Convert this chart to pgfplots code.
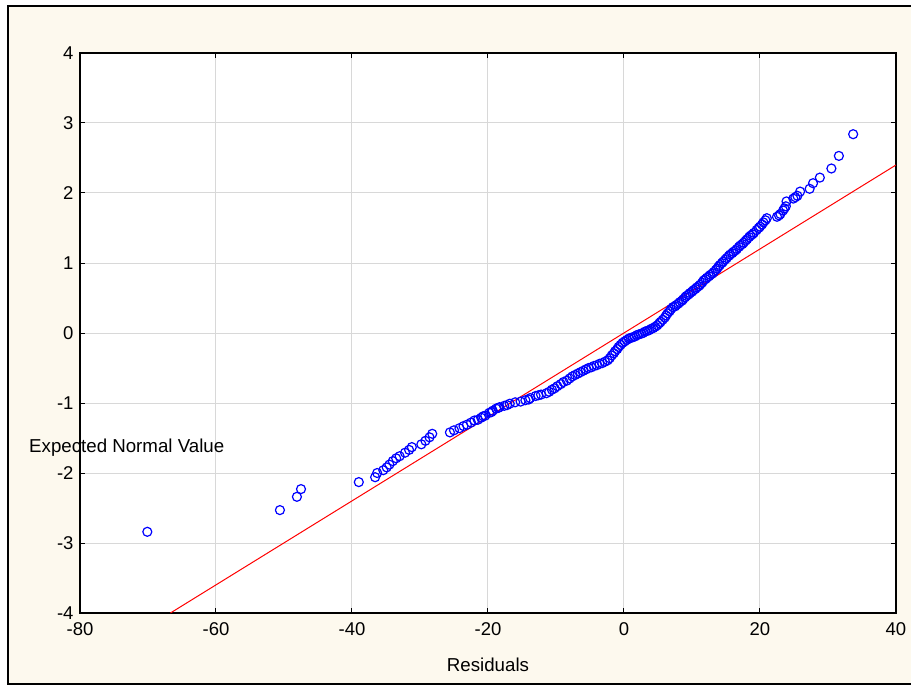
\documentclass[border=0pt]{standalone}
\usepackage{fontspec}
\setmainfont{Liberation Sans}
\usepackage{pgfplots}
\pgfplotsset{compat=1.18}
\definecolor{cream}{RGB}{253,249,238}
\definecolor{gridgray}{RGB}{216,216,216}
\begin{document}
\begin{tikzpicture}
% page background and outer frame (origin = axis lower-left corner)
\fill[white] (-80pt,-73pt) rectangle (831pt,613pt);
\filldraw[fill=cream, draw=black, line width=2pt] (-72pt,-71pt) rectangle (840pt,607pt);
\begin{axis}[
  at={(0pt,0pt)}, anchor=south west,
  width=816pt, height=560pt, scale only axis,
  xmin=-80, xmax=40, ymin=-4, ymax=4,
  xtick={-80,-60,...,40}, ytick={-4,-3,...,4},
  /pgf/number format/assume math mode=true,
  tick label style={font=\fontsize{18.5}{20}\selectfont},
  xticklabel style={yshift=-6pt},
  yticklabel style={xshift=-3pt},
  axis background/.style={fill=white},
  grid=major,
  major grid style={draw=gridgray, line width=1pt},
  axis line style={black, line width=1.5pt},
  tick style={black, line width=1pt},
  major tick length=5pt, tick align=inside,
  xlabel={Residuals},
  xlabel style={font=\fontsize{18.7}{20}\selectfont, at={(axis description cs:0.5,0)}, anchor=center, yshift=-52pt},
  ylabel={Expected Normal Value},
  ylabel style={font=\fontsize{18.7}{20}\selectfont, rotate=-90, anchor=west, inner sep=0pt, at={(axis description cs:-0.0625,0.296)}},
]
\addplot[only marks, mark=o, mark size=4.5pt, color=blue, mark options={line width=1.2pt}] coordinates {
(-70.1,-2.84) (-50.6,-2.53) (-48.1,-2.34) (-47.5,-2.23) (-39.0,-2.13)
(-36.6,-2.06) (-36.3,-2.00) (-35.4,-1.96) (-34.9,-1.92) (-34.5,-1.88)
(-34.0,-1.83) (-33.5,-1.79) (-33.0,-1.76) (-32.2,-1.71) (-31.6,-1.67)
(-31.2,-1.63) (-29.8,-1.59) (-29.2,-1.54) (-28.6,-1.49) (-28.2,-1.44)
(-25.6,-1.42) (-25.0,-1.39) (-24.2,-1.36) (-23.6,-1.33) (-23.1,-1.31)
(-22.5,-1.28) (-22.0,-1.25) (-21.0,-1.21) (-20.4,-1.18) (-19.8,-1.14)
(-19.3,-1.11) (-18.8,-1.08) (-18.3,-1.06) (-17.6,-1.04) (-16.8,-1.01)
(-16.0,-0.99) (-15.2,-0.98) (-14.5,-0.96) (-13.8,-0.93) (-13.0,-0.90)
(-12.2,-0.88) (-11.4,-0.86) (-10.6,-0.81) (-9.8,-0.76) (-8.9,-0.70)
(-8.0,-0.65) (-7.2,-0.60) (-6.4,-0.56) (-5.6,-0.52) (-4.8,-0.49)
(-4.0,-0.46) (-3.2,-0.43) (-2.4,-0.39) (-1.8,-0.32) (-1.3,-0.26)
(-0.8,-0.20) (-0.2,-0.14) (0.4,-0.10) (1.0,-0.07) (1.6,-0.05)
(2.2,-0.02) (2.8,0.00) (3.4,0.03) (4.0,0.06) (4.6,0.09)
(5.2,0.14) (5.7,0.19) (6.2,0.25) (6.7,0.31) (7.2,0.37)
(7.7,0.40) (8.2,0.44) (8.7,0.48) (9.2,0.53) (9.7,0.57)
(10.2,0.61) (10.7,0.65) (11.2,0.69) (11.7,0.75) (12.2,0.79)
(12.7,0.83) (13.2,0.87) (13.7,0.92) (14.1,0.97) (14.6,1.02)
(15.1,1.07) (15.6,1.12) (16.1,1.16) (16.6,1.20) (17.1,1.25)
(17.6,1.29) (18.1,1.34) (18.6,1.39) (19.1,1.43) (19.5,1.47)
(20.0,1.52) (20.5,1.58) (21.0,1.64) (22.5,1.66) (23.0,1.70)
(23.4,1.75) (23.8,1.81) (23.9,1.88) (24.9,1.92) (25.5,1.96)
(25.9,2.02) (27.3,2.06) (27.8,2.14) (28.8,2.22) (30.5,2.35)
(31.6,2.53) (33.7,2.84)
(-21.5,-1.24) (-20.7,-1.19) (-19.5,-1.13) (-18.5,-1.07) (-17.2,-1.03)
(-14.0,-0.95) (-12.6,-0.89) (-11.0,-0.84) (-10.2,-0.79) (-9.3,-0.73)
(-8.4,-0.68) (-7.6,-0.62) (-6.8,-0.58) (-6.0,-0.54) (-5.2,-0.50)
(-4.4,-0.47) (-3.6,-0.44) (-2.8,-0.41) (-2.1,-0.36) (-1.5,-0.29)
(-1.0,-0.23) (-0.5,-0.17) (0.1,-0.12) (0.7,-0.08) (1.3,-0.06)
(1.9,-0.03) (2.5,-0.01) (3.1,0.02) (3.7,0.04) (4.3,0.07)
(4.9,0.11) (5.4,0.16) (6.0,0.22) (6.4,0.28) (6.9,0.34)
(7.5,0.38) (8.0,0.42) (8.5,0.46) (9.0,0.51) (9.5,0.55)
(10.0,0.59) (10.5,0.63) (11.0,0.67) (11.5,0.72) (12.0,0.77)
(12.5,0.81) (13.0,0.85) (13.5,0.90) (13.9,0.95) (14.4,1.00)
(14.9,1.05) (15.4,1.10) (15.9,1.14) (16.4,1.18) (16.9,1.23)
(17.4,1.27) (17.9,1.32) (18.4,1.37) (18.9,1.41) (19.8,1.50)
(20.3,1.55) (20.8,1.61) (22.8,1.68) (23.6,1.78) (25.2,1.94)
};
\addplot[red, line width=1pt] coordinates {(-66.7,-4) (40,2.4)};
\end{axis}
\pgfresetboundingbox
\useasboundingbox (-80pt,-73pt) rectangle (831pt,613pt);
\end{tikzpicture}
\end{document}
